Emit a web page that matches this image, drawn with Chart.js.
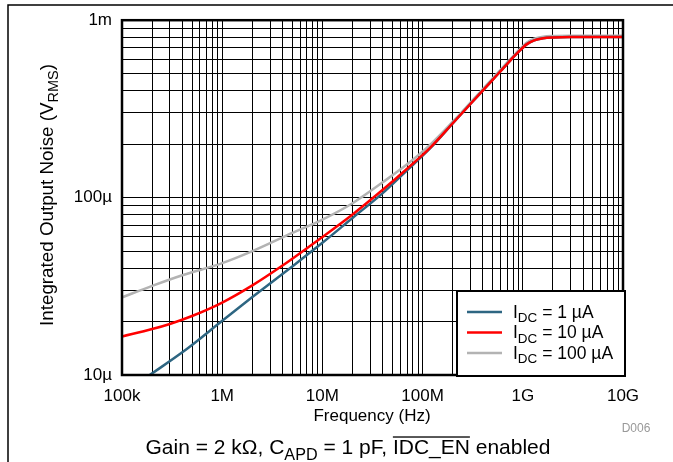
<!DOCTYPE html>
<html>
<head>
<meta charset="utf-8">
<script src="https://cdn.jsdelivr.net/npm/chart.js@4.4.1/dist/chart.umd.min.js"></script>
<style>
  body { margin: 0; background: #fff; }
</style>
</head>
<body>
<canvas id="chart" width="673" height="462"></canvas>
<script>
// frequencies in Hz, noise in µV rms
const freq1uA = [1.8e5, 4.5e5, 1e6, 2e6, 4.5e6, 1e7, 2e7, 4e7, 7e7, 1.2e8, 2e8, 3e8, 5e8, 7e8, 9e8, 1.1e9, 1.3e9, 1.6e9, 2e9, 3e9, 1e10];
const noise1uA = [9.8, 14.1, 20.2, 27.5, 39.1, 55.6, 76.8, 106, 142.6, 190.6, 262, 337, 461, 568, 660, 733, 770, 791, 799, 803, 803];

const freq10uA = [1e5, 2e5, 3e5, 5e5, 1e6, 2e6, 4e6, 1e7, 2e7, 4e7, 7e7, 1.2e8, 2e8, 3e8, 5e8, 7e8, 9e8, 1.1e9, 1.3e9, 1.6e9, 2e9, 3e9, 1e10];
const noise10uA = [16.5, 18.15, 19.4, 21.5, 25.6, 32, 41.4, 60, 80.4, 110.7, 145.5, 191.8, 262.4, 337, 461, 568, 660, 733, 770, 791, 799, 803, 803];

const freq100uA = [1e5, 2e5, 4e5, 1e6, 2e6, 5e6, 1e7, 2e7, 4e7, 7e7, 1.2e8, 2e8, 3e8, 5e8, 7e8, 9e8, 1.1e9, 1.3e9, 1.6e9, 2e9, 3e9, 1e10];
const noise100uA = [27.4, 31.8, 36.5, 42.7, 49.9, 63.2, 75.2, 93, 122, 154, 199.5, 268, 343, 470, 578, 672, 748, 787, 808, 815, 818, 818];

const xDecades = [1e5, 1e6, 1e7, 1e8, 1e9, 1e10];
const xTickLabels = ['100k', '1M', '10M', '100M', '1G', '10G'];
const yDecades = [10, 100, 1000];
const yTickLabels = ['10\u00b5', '100\u00b5', '1m'];

const seriesNames = ['1 \u00b5A', '10 \u00b5A', '100 \u00b5A'];
const seriesColors = ['#2e6682', '#ff0000', '#b3b3b3'];

const FONT = '"Liberation Sans", Arial, sans-serif';

const toPoints = (xs, ys) => xs.map((x, i) => ({ x: x, y: ys[i] }));

// 1..9 x each decade, for the grid
const logTicks = (decades) => {
    let out = [];
    for (let i = 0; i < decades.length; ++i) {
        if (i === decades.length - 1) {
            out.push({ value: decades[i] });
            break;
        }
        for (let m = 1; m <= 9; ++m) {
            out.push({ value: decades[i] * m });
        }
    }
    return out;
};

const decadeLabel = (value, decades, labels) => {
    for (let i = 0; i < decades.length; ++i) {
        if (Math.abs(value / decades[i] - 1) < 1e-6) return labels[i];
    }
    return '';
};

const SUB = 0.77;

const drawSubText = (ctx, x, y, parts, size) => {
    // parts: [text, 'n' | 's' | 'o'] normal / subscript / overlined
    let cx = x;
    for (const [txt, kind] of parts) {
        if (kind === 's') {
            ctx.font = `${size * SUB}px ${FONT}`;
            ctx.fillText(txt, cx, y + size * 0.28);
        } else {
            ctx.font = `${size}px ${FONT}`;
            ctx.fillText(txt, cx, y);
        }
        const w = ctx.measureText(txt).width;
        if (kind === 'o') {
            ctx.fillRect(cx, y - size * 0.84, w, 1.3);
        }
        cx += w;
    }
    return cx - x;
};

const measureParts = (ctx, parts, size) => {
    let w = 0;
    for (const [txt, kind] of parts) {
        ctx.font = kind === 's' ? `${size * SUB}px ${FONT}` : `${size}px ${FONT}`;
        w += ctx.measureText(txt).width;
    }
    return w;
};

const decorations = {
    id: 'decorations',
    afterDatasetsDraw(chart) {
        const ctx = chart.ctx;
        const a = chart.chartArea;
        ctx.save();

        // plot frame
        ctx.strokeStyle = '#000';
        ctx.lineWidth = 2.5;
        ctx.strokeRect(a.left, a.top, a.right - a.left, a.bottom - a.top);

        // page frame
        ctx.lineWidth = 1.5;
        ctx.beginPath();
        ctx.moveTo(8, 462);
        ctx.lineTo(8, 5);
        ctx.lineTo(673, 5);
        ctx.stroke();

        // legend box
        const lx = 457, ly = 291, lw = 168, lh = 85;
        ctx.fillStyle = '#fff';
        ctx.fillRect(lx, ly, lw, lh);
        ctx.lineWidth = 2;
        ctx.strokeStyle = '#000';
        ctx.strokeRect(lx, ly, lw, lh);
        const rowY = [312, 332.5, 353];
        for (let i = 0; i < seriesNames.length; ++i) {
            ctx.strokeStyle = seriesColors[i];
            ctx.lineWidth = 2.5;
            ctx.beginPath();
            ctx.moveTo(467, rowY[i]);
            ctx.lineTo(502, rowY[i]);
            ctx.stroke();
            ctx.fillStyle = '#000';
            ctx.textBaseline = 'alphabetic';
            ctx.textAlign = 'left';
            drawSubText(ctx, 513, rowY[i] + 5.5, [['I', 'n'], ['DC', 's'], [' = ' + seriesNames[i], 'n']], 17.5);
        }

        // y axis title
        ctx.fillStyle = '#000';
        ctx.translate(53, 195);
        ctx.rotate(-Math.PI / 2);
        const yParts = [['Integrated Output Noise (V', 'n'], ['RMS', 's'], [')', 'n']];
        const yw = measureParts(ctx, yParts, 18.8);
        drawSubText(ctx, -yw / 2, 0, yParts, 18.8);
        ctx.setTransform(1, 0, 0, 1, 0, 0);

        // x axis title
        ctx.font = `17px ${FONT}`;
        ctx.textAlign = 'center';
        ctx.fillText('Frequency (Hz)', 372, 421);

        // figure id
        ctx.fillStyle = '#999';
        ctx.font = `12px ${FONT}`;
        ctx.fillText('D006', 636, 432);

        // caption
        ctx.fillStyle = '#000';
        ctx.textAlign = 'left';
        const cParts = [['Gain = 2 k\u03a9, C', 'n'], ['APD', 's'], [' = 1 pF, ', 'n'], ['IDC_EN', 'o'], [' enabled', 'n']];
        const cw = measureParts(ctx, cParts, 21);
        drawSubText(ctx, 348 - cw / 2, 454, cParts, 21);

        ctx.restore();
    }
};

new Chart(document.getElementById('chart'), {
    type: 'line',
    data: {
        datasets: [
            {
                label: 'IDC = ' + seriesNames[0],
                data: toPoints(freq1uA, noise1uA),
                borderColor: seriesColors[0],
                order: 1
            },
            {
                label: 'IDC = ' + seriesNames[1],
                data: toPoints(freq10uA, noise10uA),
                borderColor: seriesColors[1],
                order: 0
            },
            {
                label: 'IDC = ' + seriesNames[2],
                data: toPoints(freq100uA, noise100uA),
                borderColor: seriesColors[2],
                order: 2
            }
        ]
    },
    options: {
        responsive: false,
        animation: false,
        devicePixelRatio: 1,
        layout: { padding: { top: 18, right: 50, left: 0, bottom: 0 } },
        elements: {
            point: { radius: 0 },
            line: { borderWidth: 2.5, cubicInterpolationMode: 'monotone', fill: false }
        },
        plugins: {
            legend: { display: false },
            tooltip: { enabled: false }
        },
        scales: {
            x: {
                type: 'logarithmic',
                min: 1e5,
                max: 1e10,
                afterBuildTicks: (scale) => { scale.ticks = logTicks(xDecades); },
                afterFit: (scale) => { scale.height = 87; },
                border: { display: false },
                grid: { color: '#000', lineWidth: 1, drawTicks: false },
                ticks: {
                    autoSkip: false,
                    maxRotation: 0,
                    padding: 11,
                    color: '#000',
                    font: { family: FONT, size: 17 },
                    callback: (v) => decadeLabel(v, xDecades, xTickLabels)
                }
            },
            y: {
                type: 'logarithmic',
                min: 10,
                max: 1000,
                afterBuildTicks: (scale) => { scale.ticks = logTicks(yDecades); },
                afterFit: (scale) => { scale.width = 122; },
                border: { display: false },
                grid: { color: '#000', lineWidth: 1, drawTicks: false },
                ticks: {
                    autoSkip: false,
                    padding: 10,
                    color: '#000',
                    font: { family: FONT, size: 17 },
                    callback: (v) => decadeLabel(v, yDecades, yTickLabels)
                }
            }
        }
    },
    plugins: [decorations]
});
</script>
</body>
</html>
